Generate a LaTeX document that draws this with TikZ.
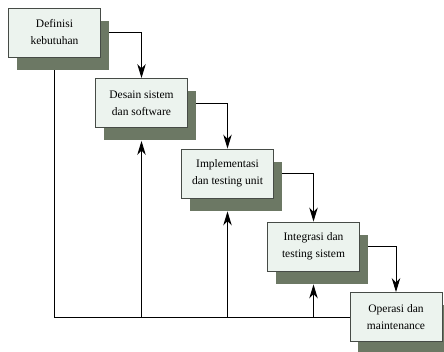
\documentclass[tikz,border=0pt]{standalone}
\usepackage{fontspec}
\setmainfont{Liberation Serif}
\usetikzlibrary{arrows.meta,shadows}
\definecolor{boxfill}{RGB}{236,243,238}
\definecolor{boxline}{RGB}{70,75,70}
\definecolor{shadowgreen}{RGB}{108,120,100}
\tikzset{
  phase/.style={shape=rectangle, draw=boxline, fill=boxfill, line width=0.9pt,
    minimum width=92pt, minimum height=49pt, align=center,
    font=\fontsize{11.5}{17}\selectfont,
    drop shadow={shadow xshift=8pt, shadow yshift=-13pt, fill=shadowgreen, opacity=1}},
  flow/.style={-{Stealth[length=14pt, width=8.5pt, inset=4.5pt]}, black, line width=0.9pt},
  back/.style={black, line width=0.9pt}
}
\begin{document}
\begin{tikzpicture}[x=1pt, y=-1pt]
  \useasboundingbox[fill=white] (0,0) rectangle (444,352);
  \node[phase, name=def] at (54.5,32.5) {Definisi\\kebutuhan};
  \node[phase, name=des] at (141.5,103) {Desain sistem\\dan software};
  \node[phase, name=imp] at (227.5,173.5) {Implementasi\\dan testing unit};
  \node[phase, name=int] at (313.5,246.5) {Integrasi dan\\testing sistem};
  \node[phase, name=ope] at (396,317) {Operasi dan\\maintenance};
  % forward flow
  \draw[flow] ([xshift=8pt]def.east) -| (des.north);
  \draw[flow] ([xshift=8pt]des.east) -| (imp.north);
  \draw[flow] ([xshift=8pt]imp.east) -| (int.north);
  \draw[flow] ([xshift=8pt]int.east) -| (ope.north);
  % feedback
  \draw[back] (ope.west) -| ([yshift=-13pt]def.south);
  \draw[flow] (des.south |- ope.west) -- ([yshift=-13pt]des.south);
  \draw[flow] (imp.south |- ope.west) -- ([yshift=-13pt]imp.south);
  \draw[flow] (int.south |- ope.west) -- ([yshift=-13pt]int.south);
\end{tikzpicture}
\end{document}
